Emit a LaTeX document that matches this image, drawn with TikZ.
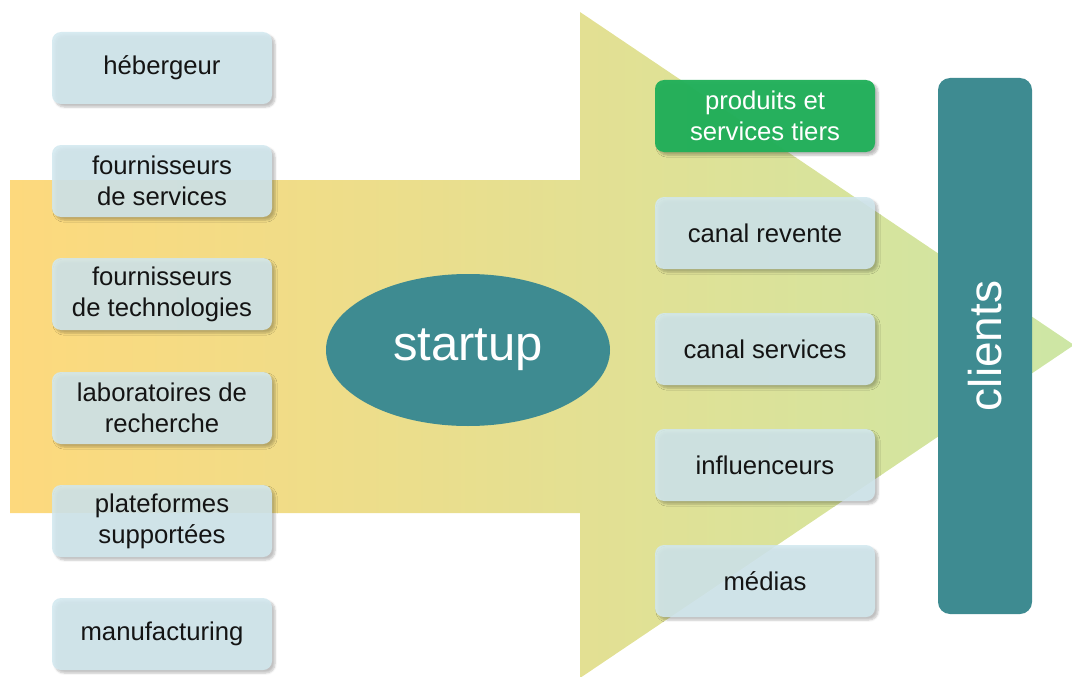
\documentclass[tikz,border=0pt]{standalone}
\usepackage{fontspec}
\setmainfont{Liberation Sans}
\usetikzlibrary{shadows.blur,shapes.geometric}
\definecolor{boxblue}{RGB}{210,232,239}
\definecolor{tealc}{RGB}{62,139,145}
\definecolor{greenc}{RGB}{34,176,90}
\definecolor{arrL}{RGB}{253,217,125}
\definecolor{arrM}{RGB}{230,225,154}
\definecolor{arrR}{RGB}{205,230,165}
\tikzset{
  box/.style={rectangle, rounded corners=9pt, fill=boxblue, fill opacity=0.88, text opacity=1,
    minimum width=220pt, minimum height=72pt, align=center, inner sep=0pt,
    font=\fontsize{25.7}{31}\selectfont, text=black!92,
    blur shadow={shadow xshift=3pt, shadow yshift=-3pt, shadow opacity=28, shadow blur steps=6}},
  gbox/.style={box, fill=greenc, fill opacity=0.97, text=white},
}
\begin{document}
\begin{tikzpicture}[x=1pt,y=-1pt]
\useasboundingbox (0,0) rectangle (1072,677);
\shade[left color=arrL, middle color=arrM, right color=arrR]
  (10,180) -- (580,180) -- (580,12) -- (1074,345) -- (580,678) -- (580,513) -- (10,513) -- cycle;

\node[box] (heb) at (162,68) {hébergeur};
\node[box] (fserv) at (162,181) {fournisseurs\\de services};
\node[box] (ftech) at (162,294) {fournisseurs\\de technologies};
\node[box] (labo) at (162,408) {laboratoires de\\recherche};
\node[box] (plat) at (162,521) {plateformes\\supportées};
\node[box] (manu) at (162,634) {manufacturing};

\node[ellipse, fill=tealc, minimum width=284pt, minimum height=152pt, text=white,
  font=\fontsize{49}{55}\selectfont] (startup) at (468,350) {startup};

\node[gbox] (tiers) at (765,116) {produits et\\services tiers};
\node[box] (revente) at (765,233) {canal revente};
\node[box] (cserv) at (765,349) {canal services};
\node[box] (infl) at (765,465) {influenceurs};
\node[box] (medias) at (765,581) {médias};

\node[rectangle, rounded corners=12pt, fill=tealc, minimum width=536pt, minimum height=94pt,
  rotate=90, text=white, font=\fontsize{46}{52}\selectfont] (clients) at (985,346) {clients};
\end{tikzpicture}
\end{document}
